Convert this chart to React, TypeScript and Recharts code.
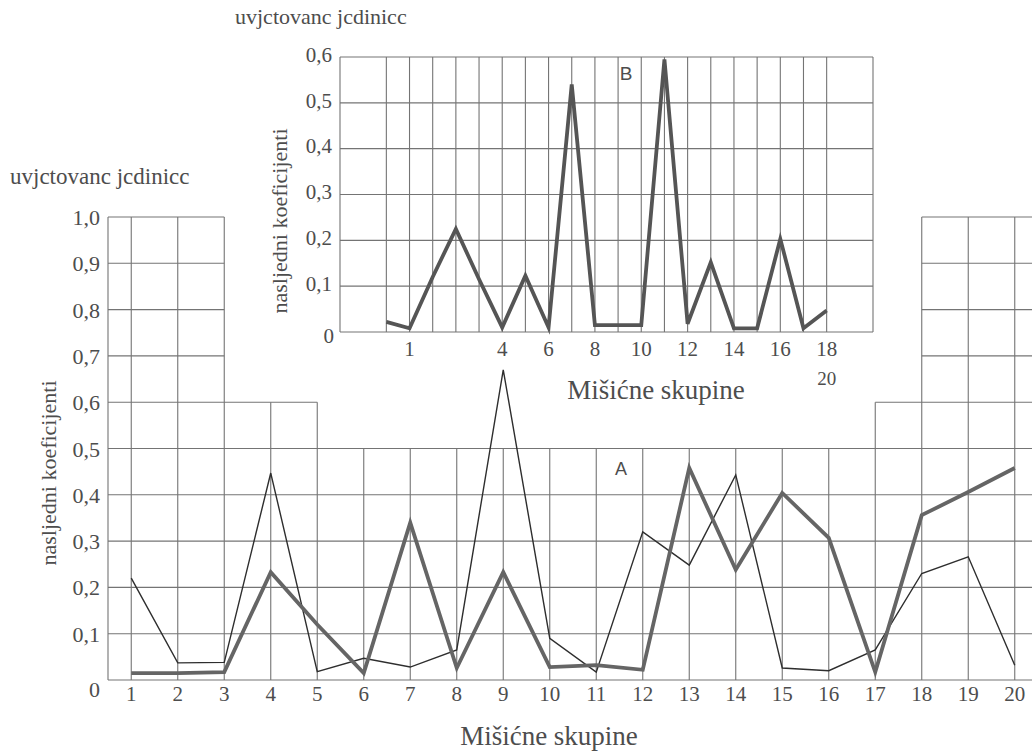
import React from "react";
import { LineChart, Line, XAxis, YAxis, ReferenceLine } from "recharts";

// ---- Main chart (A) data ----
const categories = [1, 2, 3, 4, 5, 6, 7, 8, 9, 10, 11, 12, 13, 14, 15, 16, 17, 18, 19, 20];
const thinSeries = [0.22, 0.037, 0.038, 0.447, 0.018, 0.047, 0.028, 0.065, 0.67, 0.09, 0.017, 0.32, 0.248, 0.443, 0.026, 0.02, 0.065, 0.23, 0.266, 0.032];
const thickSeries = [0.015, 0.015, 0.017, 0.233, 0.12, 0.015, 0.34, 0.026, 0.233, 0.028, 0.032, 0.022, 0.458, 0.238, 0.404, 0.307, 0.017, 0.356, 0.406, 0.458];
const mainYTicks = [0, 0.1, 0.2, 0.3, 0.4, 0.5, 0.6, 0.7, 0.8, 0.9, 1];

// ---- Inset chart (B) data ----
const bCategories = [1, 2, 3, 4, 5, 6, 7, 8, 9, 10, 11, 12, 13, 14, 15, 16, 17, 18, 19, 20];
const bSeries = [0.022, 0.008, 0.12, 0.225, 0.115, 0.01, 0.123, 0.01, 0.54, 0.015, 0.015, 0.015, 0.595, 0.018, 0.152, 0.008, 0.008, 0.203, 0.008, 0.047];
const bYTicks = [0, 0.1, 0.2, 0.3, 0.4, 0.5, 0.6];
const bTickAt = [2, 6, 8, 10, 12, 14, 16, 18, 20];
const bTickLabels = ["1", "4", "6", "8", "10", "12", "14", "16", "18\n20"];

const SERIF = "Liberation Serif, DejaVu Serif, serif";
const SANS = "Liberation Sans, Arial, sans-serif";
const TXT = "#4d4d4d";
const GRID = "#747474";

const mainData = categories.map((c, i) => ({ x: c, thin: thinSeries[i], thick: thickSeries[i] }));
const bData = bCategories.map((c, i) => ({ x: c, v: bSeries[i] }));

const fmt = (v: number) => (v === 0 ? "0" : v.toFixed(1).replace(".", ","));

// stepped grid of chart A
const topAt = (x: number) => (x <= 3 ? 1 : x <= 5 ? 0.6 : x < 17 ? 0.5 : x < 18 ? 0.6 : 1);
const mainVerticals = [0.5, ...categories, 20.5];
const mainHoriz: { y: number; ranges: [number, number][] }[] = mainYTicks
  .filter((v) => v > 0)
  .map((v) => ({
    y: v,
    ranges: v <= 0.5 ? [[0.5, 20.5]] : v <= 0.6 ? [[0.5, 5], [17, 20.5]] : [[0.5, 3], [18, 20.5]],
  }));

const bVerticals = [-1, ...bCategories, 22];

const serifStyle = { fontFamily: SERIF };

const MainYTick = (props: any) => {
  const { x, y, payload } = props;
  const zero = payload.value === 0;
  return (
    <text x={x} y={y + (zero ? 12 : 3)} textAnchor="end" dominantBaseline="middle" fill={TXT} fontSize={22} style={serifStyle}>
      {fmt(payload.value)}
    </text>
  );
};

const MainXTick = (props: any) => {
  const { x, y, payload } = props;
  return (
    <text x={x} y={y + 8} textAnchor="middle" dominantBaseline="middle" fill={TXT} fontSize={21} style={serifStyle}>
      {payload.value}
    </text>
  );
};

const BYTick = (props: any) => {
  const { x, y, payload } = props;
  const zero = payload.value === 0;
  return (
    <text x={x + (zero ? 2 : 0)} y={y + (zero ? 6 : 0)} textAnchor="end" dominantBaseline="middle" fill={TXT} fontSize={21} style={serifStyle}>
      {fmt(payload.value)}
    </text>
  );
};

const BXTick = (props: any) => {
  const { x, y, payload } = props;
  const idx = bTickAt.indexOf(payload.value);
  const label = idx >= 0 ? bTickLabels[idx] : "";
  const lines = label.split("\n");
  return (
    <g>
      {lines.map((l, i) => (
        <text key={i} x={x} y={y + 11 + i * 30} textAnchor="middle" dominantBaseline="middle" fill={TXT} fontSize={i === 0 ? 21 : 19} style={serifStyle}>
          {l}
        </text>
      ))}
    </g>
  );
};

export default function App() {
  return (
    <div style={{ position: "absolute", left: 0, top: 0, width: 1032, height: 751, overflow: "hidden", background: "#fff" }}>
      {/* Main chart A */}
      <div style={{ position: "absolute", left: 0, top: 0 }}>
        <LineChart width={1060} height={751} data={mainData} margin={{ top: 217, right: 22, left: 48, bottom: 41 }}>
          <XAxis
            dataKey="x"
            type="number"
            domain={[0.5, 20.5]}
            ticks={categories}
            interval={0}
            height={30}
            tickLine={false}
            axisLine={{ stroke: GRID, strokeWidth: 1.2 }}
            tick={<MainXTick />}
          />
          <YAxis
            type="number"
            domain={[0, 1]}
            ticks={mainYTicks}
            interval={0}
            width={60}
            tickLine={false}
            axisLine={false}
            tick={<MainYTick />}
          />
          {mainVerticals.map((vx) => (
            <ReferenceLine key={"mv" + vx} segment={[{ x: vx, y: 0 }, { x: vx, y: topAt(vx) }]} stroke={GRID} strokeWidth={1.1} />
          ))}
          {mainHoriz.flatMap((h) =>
            h.ranges.map((r, i) => (
              <ReferenceLine key={"mh" + h.y + "_" + i} segment={[{ x: r[0], y: h.y }, { x: r[1], y: h.y }]} stroke={GRID} strokeWidth={1.1} />
            ))
          )}
          <Line type="linear" dataKey="thin" stroke="#2e2e2e" strokeWidth={1.4} dot={false} isAnimationActive={false} />
          <Line type="linear" dataKey="thick" stroke="#656565" strokeWidth={3.8} dot={false} isAnimationActive={false} />
        </LineChart>
      </div>

      {/* Inset chart B */}
      <div style={{ position: "absolute", left: 250, top: 0 }}>
        <LineChart width={640} height={420} data={bData} margin={{ top: 57, right: 17, left: 30, bottom: 58 }}>
          <XAxis
            dataKey="x"
            type="number"
            domain={[-1, 22]}
            ticks={bTickAt}
            interval={0}
            height={30}
            tickLine={false}
            axisLine={{ stroke: GRID, strokeWidth: 1.2 }}
            tick={<BXTick />}
          />
          <YAxis
            type="number"
            domain={[0, 0.6]}
            ticks={bYTicks}
            interval={0}
            width={60}
            tickLine={false}
            axisLine={false}
            tick={<BYTick />}
          />
          {bVerticals.map((vx) => (
            <ReferenceLine key={"bv" + vx} segment={[{ x: vx, y: 0 }, { x: vx, y: 0.6 }]} stroke={GRID} strokeWidth={1.1} />
          ))}
          {bYTicks
            .filter((v) => v > 0)
            .map((v) => (
              <ReferenceLine key={"bh" + v} segment={[{ x: -1, y: v }, { x: 22, y: v }]} stroke={GRID} strokeWidth={1.1} />
            ))}
          <Line type="linear" dataKey="v" stroke="#555" strokeWidth={3.8} dot={false} isAnimationActive={false} />
        </LineChart>
      </div>

      {/* Titles and labels */}
      <svg width={1032} height={751} style={{ position: "absolute", left: 0, top: 0, pointerEvents: "none" }}>
        <text x={10} y={184} fill={TXT} fontSize={23} style={serifStyle}>uvjctovanc jcdinicc</text>
        <text x={235} y={24} fill={TXT} fontSize={22} style={serifStyle}>uvjctovanc jcdinicc</text>
        <text transform="translate(56,473) rotate(-90)" textAnchor="middle" fill={TXT} fontSize={22} style={serifStyle}>nasljedni koeficijenti</text>
        <text transform="translate(287,221) rotate(-90)" textAnchor="middle" fill={TXT} fontSize={22} style={serifStyle}>nasljedni koeficijenti</text>
        <text x={549} y={745} textAnchor="middle" fill={TXT} fontSize={27} style={serifStyle}>Mišićne skupine</text>
        <text x={656} y={399} textAnchor="middle" fill={TXT} fontSize={27} style={serifStyle}>Mišićne skupine</text>
        <text x={621} y={475} textAnchor="middle" fill={TXT} fontSize={18} style={{ fontFamily: SANS }}>A</text>
        <text x={626} y={80} textAnchor="middle" fill={TXT} fontSize={19} style={{ fontFamily: SANS }}>B</text>
      </svg>
    </div>
  );
}
